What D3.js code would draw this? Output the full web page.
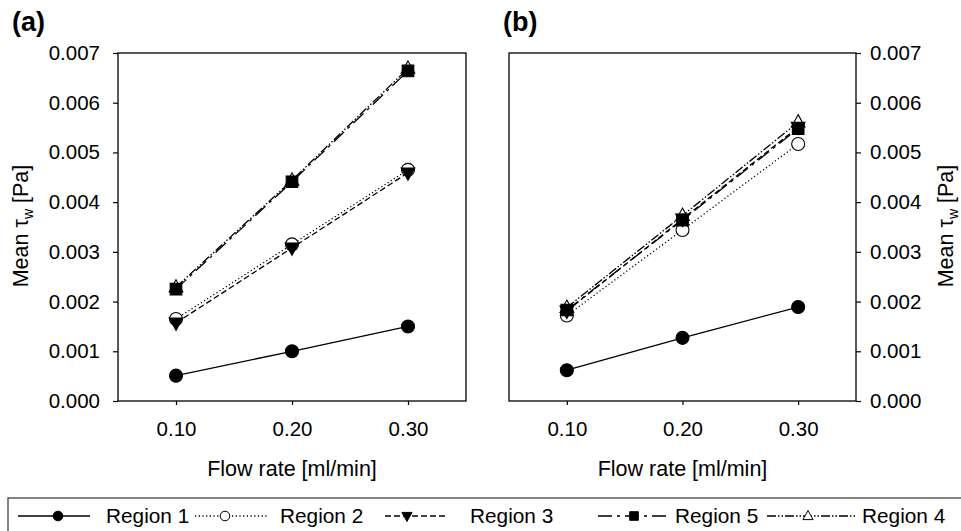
<!DOCTYPE html>
<html><head><meta charset="utf-8">
<script src="https://cdn.jsdelivr.net/npm/d3@7"></script>
<style>body{margin:0;background:#fff}svg{display:block}text{font-family:"Liberation Sans",Arial,sans-serif;fill:#000}</style>
</head><body><svg id="c" width="961" height="531"></svg>
<script>
const flowRates = [0.10, 0.20, 0.30];
const xTicks = [0.10, 0.20, 0.30];
const yTicks = [0, 0.001, 0.002, 0.003, 0.004, 0.005, 0.006, 0.007];
const seriesNames = ["Region 1", "Region 2", "Region 3", "Region 5", "Region 4"];
// Panel (a)
const a_region1 = [0.00051, 0.00100, 0.00150];
const a_region2 = [0.00165, 0.00315, 0.00465];
const a_region3 = [0.00157, 0.00308, 0.00459];
const a_region5 = [0.00225, 0.00441, 0.00664];
const a_region4 = [0.00229, 0.00444, 0.00669];
// Panel (b)
const b_region1 = [0.00062, 0.00127, 0.00189];
const b_region2 = [0.00172, 0.00344, 0.00517];
const b_region3 = [0.00181, 0.00366, 0.00551];
const b_region5 = [0.00183, 0.00364, 0.00548];
const b_region4 = [0.00188, 0.00373, 0.00561];

const styles = {
  "Region 1": {dash: null, marker: "circle", fill: "#000"},
  "Region 2": {dash: "1.2,2.5", marker: "circle", fill: "#fff"},
  "Region 3": {dash: "6,3", marker: "tridown", fill: "#000"},
  "Region 5": {dash: "14,5,3,5", marker: "square", fill: "#000"},
  "Region 4": {dash: "9,2,1.5,2,1.5,2", marker: "triup", fill: "#fff"}
};
const svg = d3.select("#c");
const TICK_FS = 20.5;

function markerPath(type, s) {
  if (type === "circle") return d3.symbol(d3.symbolCircle, Math.PI * s * s)();
  if (type === "square") return `M${-s},${-s}H${s}V${s}H${-s}Z`;
  if (type === "triup") return `M0,${-s * 1.15}L${s * 1.05},${s * 0.75}L${-s * 1.05},${s * 0.75}Z`;
  if (type === "tridown") return `M0,${s * 1.15}L${s * 1.05},${-s * 0.75}L${-s * 1.05},${-s * 0.75}Z`;
}

function panel(left, right, side, label, data) {
  const x = d3.scaleLinear().domain([0.05, 0.35]).range([left, right]);
  const y = d3.scaleLinear().domain([0, 0.007]).range([401, 53]);
  const g = svg.append("g");
  g.append("rect").attr("x", left).attr("y", 53).attr("width", right - left).attr("height", 348)
    .attr("fill", "none").attr("stroke", "#000").attr("stroke-width", 1.3);
  const xa = g.append("g").attr("transform", "translate(0,401)")
    .call(d3.axisBottom(x).tickValues(xTicks).tickFormat(d3.format(".2f")).tickSize(4).tickPadding(16));
  const ya = side === "left"
    ? g.append("g").attr("transform", `translate(${left},0)`).call(d3.axisLeft(y).tickValues(yTicks).tickFormat(d3.format(".3f")).tickSize(5).tickPadding(13))
    : g.append("g").attr("transform", `translate(${right},0)`).call(d3.axisRight(y).tickValues(yTicks).tickFormat(d3.format(".3f")).tickSize(5).tickPadding(9));
  [xa, ya].forEach(ax => {
    ax.select(".domain").remove();
    ax.selectAll(".tick line").attr("stroke", "#000").attr("stroke-width", 1.2);
    ax.selectAll(".tick text").attr("font-size", TICK_FS).attr("font-family", "Liberation Sans, Arial, sans-serif");
  });
  // axis titles
  g.append("text").attr("x", (left + right) / 2).attr("y", 476).attr("text-anchor", "middle")
    .attr("font-size", 21.5).text("Flow rate [ml/min]");
  const tx = side === "left" ? 28 : 953;
  const yt = g.append("text").attr("transform", `translate(${tx},226) rotate(-90)`).attr("text-anchor", "middle")
    .attr("font-size", 21.5);
  yt.append("tspan").text("Mean \u03C4");
  yt.append("tspan").attr("font-size", 14).attr("dy", 5).text("w");
  yt.append("tspan").attr("dy", -5).text(" [Pa]");
  // panel label
  g.append("text").attr("x", side === "left" ? 12 : 503).attr("y", 31).attr("font-size", 27)
    .attr("font-weight", "bold").text(label);
  const order = ["Region 2", "Region 4", "Region 3", "Region 5", "Region 1"];
  const line = d3.line().x((d, i) => x(flowRates[i])).y(d => y(d));
  order.forEach(name => {
    const st = styles[name];
    g.append("path").attr("d", line(data[name])).attr("fill", "none").attr("stroke", "#000")
      .attr("stroke-width", 1.3).attr("stroke-dasharray", st.dash);
  });
  order.forEach(name => {
    const st = styles[name];
    g.selectAll(null).data(data[name]).enter().append("path")
      .attr("transform", (d, i) => `translate(${x(flowRates[i])},${y(d)})`)
      .attr("d", markerPath(st.marker, st.marker === "square" ? 5.8 : 6.5))
      .attr("fill", st.fill).attr("stroke", "#000").attr("stroke-width", 1.1);
  });
}

panel(118, 466, "left", "(a)", {
  "Region 1": a_region1, "Region 2": a_region2, "Region 3": a_region3, "Region 5": a_region5, "Region 4": a_region4
});
panel(509, 856, "right", "(b)", {
  "Region 1": b_region1, "Region 2": b_region2, "Region 3": b_region3, "Region 5": b_region5, "Region 4": b_region4
});

// legend
svg.append("rect").attr("x", 8).attr("y", 498).attr("width", 970).attr("height", 60)
  .attr("fill", "none").attr("stroke", "#333").attr("stroke-width", 1.2);
const legendPos = [
  {x0: 18, x1: 90, mx: 58, tx: 106},
  {x0: 195, x1: 267, mx: 225, tx: 280},
  {x0: 385, x1: 448, mx: 407, tx: 470},
  {x0: 598, x1: 667, mx: 634, tx: 675},
  {x0: 767, x1: 855, mx: 808, tx: 862}
];
seriesNames.forEach((name, i) => {
  const p = legendPos[i], st = styles[name];
  const lg = svg.append("g");
  lg.append("line").attr("x1", p.x0).attr("x2", p.x1).attr("y1", 516).attr("y2", 516)
    .attr("stroke", "#000").attr("stroke-width", 1.3).attr("stroke-dasharray", st.dash);
  lg.append("path").attr("transform", `translate(${p.mx},516)`)
    .attr("d", markerPath(st.marker, st.marker === "square" ? 4.3 : 4.8))
    .attr("fill", st.fill).attr("stroke", "#000").attr("stroke-width", 1);
  lg.append("text").attr("x", p.tx).attr("y", 522.5).attr("font-size", 20.8).text(name);
});
</script></body></html>
